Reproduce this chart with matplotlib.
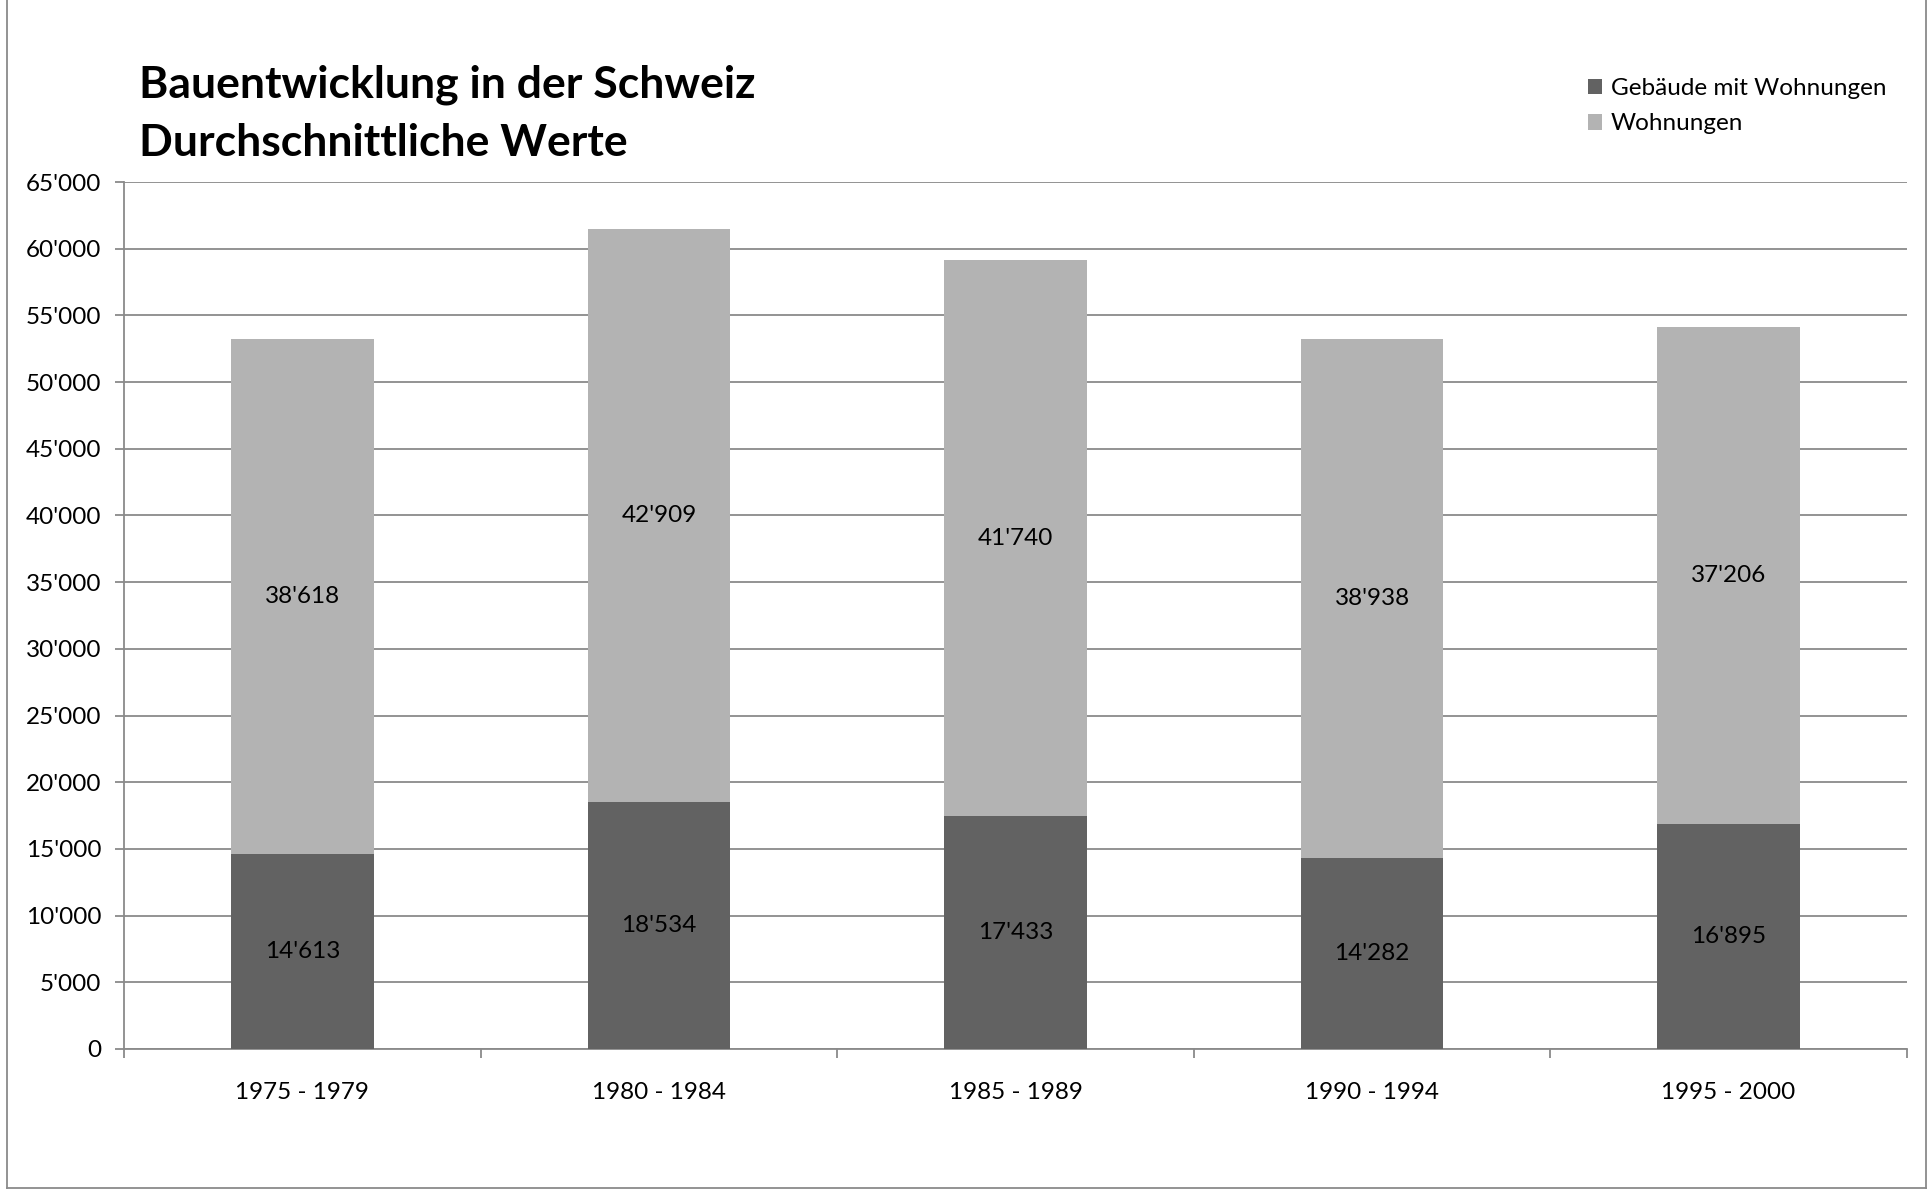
import matplotlib
matplotlib.use("Agg")
import matplotlib.pyplot as plt
from matplotlib.patches import Patch
from matplotlib.lines import Line2D
import numpy as np

# data
periods = ["1975 - 1979", "1980 - 1984", "1985 - 1989", "1990 - 1994", "1995 - 2000"]
gebaeude = [14613, 18534, 17433, 14282, 16895]
wohnungen = [38618, 42909, 41740, 38938, 37206]
series_names = ["Gebäude mit Wohnungen", "Wohnungen"]
y_ticks = list(range(0, 65001, 5000))

dark = "#626262"
light = "#b3b3b3"
grid_col = "#8a8a8a"
fs = 17.5

plt.rcParams['font.family'] = ['Lato', 'DejaVu Sans']


def fmt(v):
    return "{:,}".format(int(v)).replace(",", "'")


fig = plt.figure(figsize=(19.32, 11.92), dpi=100)
ax = fig.add_axes([0.0642, 0.12, 0.9228, 0.7273])

x = np.arange(len(periods))
b1 = ax.bar(x, gebaeude, width=0.4, color=dark, zorder=3)
b2 = ax.bar(x, wohnungen, width=0.4, bottom=gebaeude, color=light, zorder=3)

# value labels in the middle of each segment
for rect, v in zip(b1, gebaeude):
    ax.text(rect.get_x() + rect.get_width() / 2, rect.get_y() + v / 2, fmt(v),
            ha='center', va='center', fontsize=fs, color='black', zorder=4)
for rect, v in zip(b2, wohnungen):
    ax.text(rect.get_x() + rect.get_width() / 2, rect.get_y() + v / 2, fmt(v),
            ha='center', va='center', fontsize=fs, color='black', zorder=4)

ax.set_xlim(-0.5, len(periods) - 0.5)
ax.set_ylim(0, 65000)
ax.set_yticks(y_ticks)
ax.set_yticklabels([fmt(t) for t in y_ticks], fontsize=fs)
ax.yaxis.grid(True, color=grid_col, linewidth=1.3, zorder=0)

# category labels, ticks on the boundaries
ax.set_xticks(x)
ax.set_xticklabels(periods, fontsize=fs)
ax.tick_params(axis='x', which='major', length=0, pad=24)
ax.set_xticks(np.arange(-0.5, len(periods)), minor=True)
ax.tick_params(axis='x', which='minor', length=6.5, width=1.3, color=grid_col, direction='out')
ax.tick_params(axis='y', length=6.5, width=1.3, color=grid_col, pad=10)

for s in ['top', 'right']:
    ax.spines[s].set_visible(False)
for s in ['left', 'bottom']:
    ax.spines[s].set_color(grid_col)
    ax.spines[s].set_linewidth(1.3)

# title
fig.text(0.072, 0.929, "Bauentwicklung in der Schweiz", fontsize=32, fontweight='bold',
         ha='left', va='center')
fig.text(0.072, 0.880, "Durchschnittliche Werte", fontsize=32, fontweight='bold',
         ha='left', va='center')

handles = [Patch(facecolor=dark), Patch(facecolor=light)]
fig.legend(handles, series_names, loc='upper left', bbox_to_anchor=(0.8105, 0.953),
           frameon=False, fontsize=fs, handlelength=0.6, handleheight=0.6,
           handletextpad=0.35, labelspacing=0.6)

# outer border
for xs, ys in [([0.0036, 0.0036], [0.0031, 1.0]), ([0.9969, 0.9969], [0.0031, 1.0]),
               ([0.0036, 0.9969], [0.0031, 0.0031])]:
    fig.add_artist(Line2D(xs, ys, color=grid_col, linewidth=1.3, transform=fig.transFigure))

fig.savefig("out.png", dpi=100, facecolor='white')
